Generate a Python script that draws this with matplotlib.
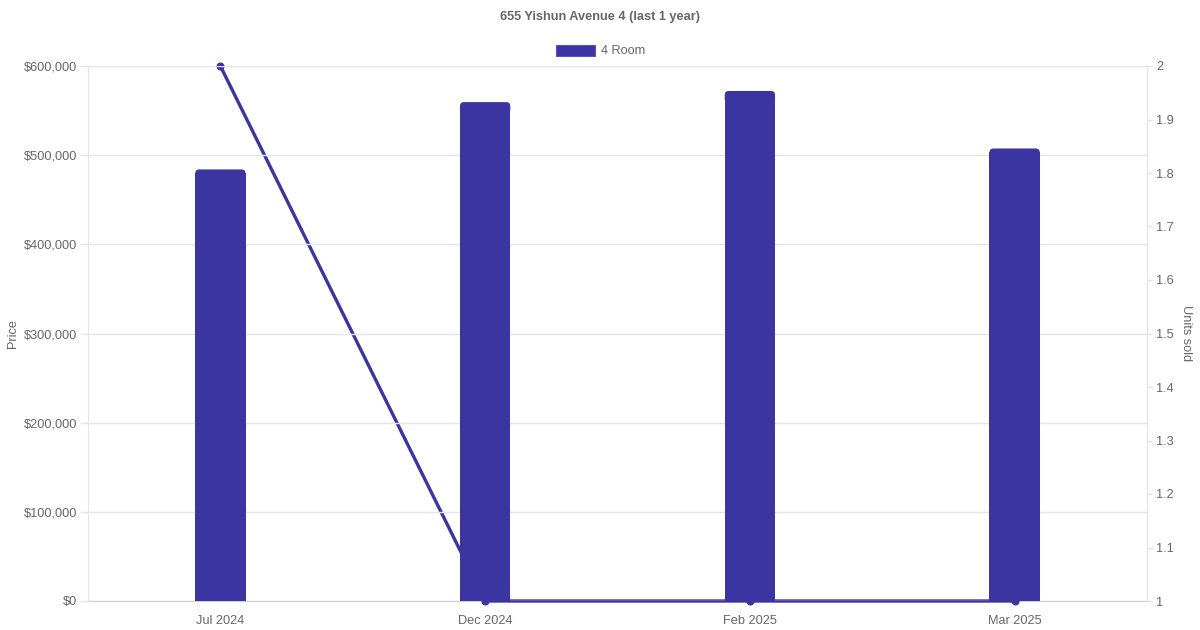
import matplotlib
matplotlib.use("Agg")
import matplotlib.pyplot as plt
from matplotlib.patches import FancyBboxPatch, Rectangle
from matplotlib.ticker import FuncFormatter, MultipleLocator

plt.rcParams['font.family'] = ['Liberation Sans', 'DejaVu Sans']

months = ["Jul 2024", "Dec 2024", "Feb 2025", "Mar 2025"]
prices = [484000, 559500, 572000, 507500]
units_sold = [2, 1, 1, 1]
series_name = "4 Room"
title = "655 Yishun Avenue 4 (last 1 year)"

bar_color = "#3a35a0"
text_color = "#666666"
grid_color = "#e5e5e5"

fig = plt.figure(figsize=(12, 6.3), dpi=100)
ax = fig.add_axes([88/1200, 29/630, (1147-88)/1200, (601-66)/630])
ax2 = ax.twinx()

x = list(range(len(months)))
bw = 0.19

# line on secondary axis (drawn beneath bars)
ax2.plot(x, units_sold, color=bar_color, linewidth=2.4, marker='o', markersize=4.8,
         clip_on=False, zorder=3)
ax2.set_ylim(1, 2)
ax2.yaxis.set_major_locator(MultipleLocator(0.1))
ax2.yaxis.set_major_formatter(FuncFormatter(lambda v, p: f"{v:.1f}".rstrip('0').rstrip('.')))

# bars
ax.set_xlim(-0.5, len(months) - 0.5)
ax.set_ylim(0, 600000)
bars = ax.bar(x, prices, width=bw, color=bar_color, alpha=0)
px_x = 1 / 264.75
px_y = 600000 / 535
r = 4 * px_x
ry = r * (px_y / px_x)
for b in bars:
    x0, w, h = b.get_x(), b.get_width(), b.get_height()
    ax.add_patch(FancyBboxPatch((x0 + r, h - 2 * ry), w - 2 * r, ry,
                                boxstyle=f"round,pad={r},rounding_size={r}",
                                mutation_aspect=px_y / px_x,
                                facecolor=bar_color, edgecolor="none", zorder=3))
    ax.add_patch(Rectangle((x0, 0), w, h - ry, facecolor=bar_color, edgecolor="none", zorder=3.1))

ax.set_zorder(ax2.get_zorder() + 1)
ax.patch.set_visible(False)

ax.yaxis.set_major_locator(MultipleLocator(100000))
ax.yaxis.set_major_formatter(FuncFormatter(lambda v, p: f"${int(v):,}"))
ax.set_xticks(x)
ax.set_xticklabels(months)
ax.grid(axis='y', color=grid_color, linewidth=1)
ax.set_axisbelow(True)

for a in (ax, ax2):
    a.spines['top'].set_visible(False)
    a.spines['left'].set_color(grid_color)
    a.spines['right'].set_color(grid_color)
    a.spines['bottom'].set_color("#cfcfcf")
    a.tick_params(colors=text_color, labelsize=9.2, width=1)
ax.spines['bottom'].set_visible(False)
ax2.spines['left'].set_visible(False)
ax.tick_params(axis='y', color=grid_color, length=5.5, pad=2.4)
ax.tick_params(axis='x', length=0, pad=9.8)
ax2.tick_params(axis='y', color=grid_color, length=3.6, pad=3)

ax.set_ylabel("Price", color=text_color, fontsize=9.2, labelpad=3)
ax2.set_ylabel("Units sold", color=text_color, fontsize=9.2, rotation=-90, labelpad=13)

fig.text(0.5, 1 - 17/630, title, ha='center', va='center', fontsize=9.2,
         fontweight='bold', color=text_color)
# legend
fig.patches.append(Rectangle((556/1200, 1 - 56/630), 39/1200, 11/630, transform=fig.transFigure,
                             facecolor=bar_color, edgecolor="#5a56b8", linewidth=0.8))
fig.text(601/1200, 1 - 51/630, series_name, ha='left', va='center', fontsize=9.2, color=text_color)

fig.savefig("out.png", dpi=100)
